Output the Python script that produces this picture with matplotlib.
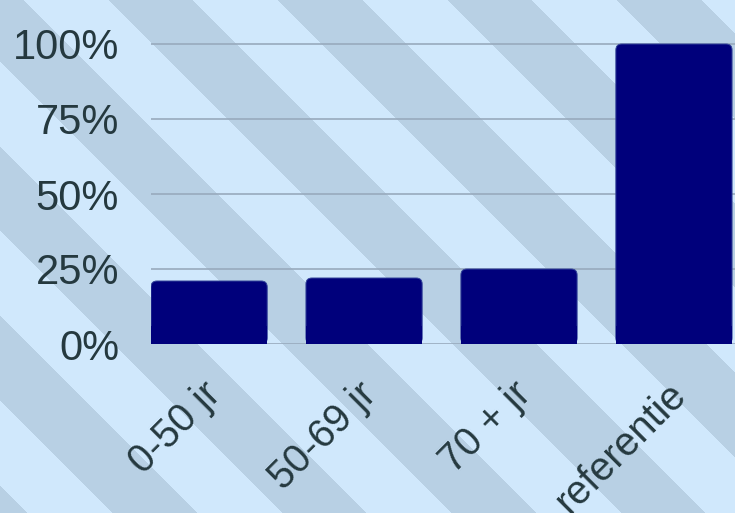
import matplotlib; matplotlib.use("Agg")
import matplotlib.pyplot as plt
from matplotlib.patches import FancyBboxPatch, Rectangle
from matplotlib.transforms import ScaledTranslation
import numpy as np

categories = ["0-50 jr", "50-69 jr", "70 + jr", "referentie"]
values = [21, 22, 25, 100]
yticks = [0, 25, 50, 75, 100]
ytick_labels = ["0%", "25%", "50%", "75%", "100%"]

LIGHT = np.array([208, 232, 252]) / 255
DARK = np.array([184, 208, 228]) / 255
BAR = "#00007b"
EDGE = "#34459a"
GRID = "#98aabd"
TXT = "#25393f"

plt.rcParams["font.family"] = ["Liberation Sans", "DejaVu Sans"]

W, H = 735, 513
fig = plt.figure(figsize=(W / 100, H / 100), dpi=100)

# diagonal 45-degree stripes behind everything
bg = fig.add_axes([0, 0, 1, 1], zorder=-1)
yy, xx = np.mgrid[0:H, 0:W] + 0.5
phase = np.mod(xx - yy - 23.4, 169.5)
mask = (phase >= 84.75)[..., None]
img = np.where(mask, DARK, LIGHT)
bg.imshow(img, extent=(0, W, H, 0), aspect="auto", interpolation="bilinear")
bg.set_xlim(0, W); bg.set_ylim(H, 0); bg.axis("off")

ax = fig.add_axes([151 / W, (H - 344) / H, 1 - 151 / W, 304 / H])
ax.set_facecolor("none")
for s in ax.spines.values():
    s.set_visible(False)

x = np.arange(len(categories))
bars = ax.bar(x, values, width=0.75, color="none", edgecolor="none")
ax.set_xlim(-0.375, 3.394)
ax.set_ylim(0, 100 * 304 / 300)

# rounded-top bars: px radius converted into data units on each axis
r_px = 6
xr = r_px / 155.0
yr = r_px / 3.0
for b in bars:
    bx, bw, bh = b.get_x(), b.get_width(), b.get_height()
    ax.add_patch(FancyBboxPatch((bx, 0), bw, bh,
                                boxstyle=f"round,pad=0,rounding_size={xr}",
                                mutation_aspect=yr / xr,
                                fc=BAR, ec=EDGE, lw=0.7, zorder=3))
    ax.add_patch(Rectangle((bx, 0), bw, min(bh / 2, 3 * yr),
                           fc=BAR, ec="none", zorder=3.1))

ax.set_yticks(yticks)
ax.set_yticklabels(ytick_labels)
ax.yaxis.grid(True, color=GRID, lw=1.2)
ax.set_axisbelow(True)
ax.tick_params(axis="y", length=0, pad=23, labelsize=30, labelcolor=TXT)

ax.set_xticks(x)
ax.set_xticklabels(categories, rotation=45, ha="right", va="center",
                   rotation_mode="anchor")
ax.tick_params(axis="x", length=0, pad=32, labelsize=28.5, labelcolor=TXT)
shift = ScaledTranslation(6 / 100, 0, fig.dpi_scale_trans)
for lbl in ax.get_xticklabels():
    lbl.set_transform(lbl.get_transform() + shift)

fig.savefig("out.png", dpi=100)
